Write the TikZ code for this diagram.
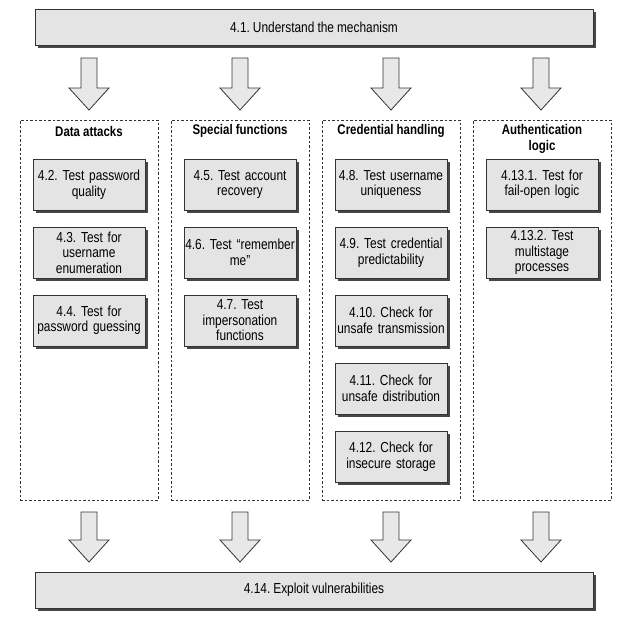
\documentclass[tikz,border=0pt]{standalone}
\usepackage{fontspec}
\setmainfont{Liberation Sans}[FakeStretch=0.82]
\usetikzlibrary{shadows}
\definecolor{boxfill}{HTML}{E4E4E4}
\definecolor{arrfill}{HTML}{E8E8E8}
\definecolor{edge}{HTML}{333333}
\newcommand{\blkarrow}[3]{%
  \draw[blockarrow] ({#1-8},{#2}) -- ({#1+8},{#2}) -- ({#1+8},{#3-22}) -- ({#1+20},{#3-22})
    -- ({#1},{#3}) -- ({#1-20},{#3-22}) -- ({#1-8},{#3-22}) -- cycle;}
\newcommand{\boxfont}{\fontsize{14.5}{15.5}\selectfont\spaceskip=0.21em plus 0.05em minus 0.03em\relax}
\newcommand{\hdrfont}{\fontsize{14}{16}\selectfont\bfseries\spaceskip=0.22em plus 0.05em minus 0.03em\relax}
\begin{document}
\frenchspacing
\begin{tikzpicture}[x=1pt,y=-1pt,
  boxshadow/.style={drop shadow={shadow xshift=3pt, shadow yshift=-3pt, fill=black!72, opacity=1}},
  task/.style={draw=edge, line width=0.9pt, fill=boxfill, boxshadow,
    minimum width=112pt, minimum height=51pt, align=center, text width=110pt,
    inner sep=1pt, font=\boxfont},
  wide/.style={draw=edge, line width=0.9pt, fill=boxfill, boxshadow,
    minimum width=558pt, minimum height=36pt, font=\boxfont},
  colframe/.style={draw=edge, line width=0.7pt, dash pattern=on 2.5pt off 2pt,
    minimum width=138pt, minimum height=380pt, inner sep=0pt},
  hdr/.style={align=center, font=\hdrfont},
  blockarrow/.style={draw=edge, line width=0.8pt, fill=arrfill, line join=miter}
]
\useasboundingbox (0,0) rectangle (632,625);

% top and bottom boxes
\node[wide] (top) at (314,27) {4.1. Understand the mechanism};
\node[wide] (bot) at (314,590) {4.14. Exploit vulnerabilities};

% column frames
\node[colframe] (c1) at (89,310) {};
\node[colframe] (c2) at (240,310) {};
\node[colframe] (c3) at (391,310) {};
\node[colframe] (c4) at (542,310) {};

% headers
\node[hdr] (h1) at (89,131) {Data attacks};
\node[hdr] (h2) at (240,131) {Special functions};
\node[hdr] (h3) at (391,131) {Credential handling};
\node[hdr] (h4) at (542,139) {Authentication\\logic};

% column 1
\node[task] (t42) at (89,184.5) {4.2. Test password\\quality};
\node[task] (t43) at (89,252.5) {4.3. Test for\\username\\enumeration};
\node[task] (t44) at (89,320.5) {4.4. Test for\\password guessing};
% column 2
\node[task] (t45) at (240,184.5) {4.5. Test account\\recovery};
\node[task] (t46) at (240,252.5) {4.6. Test “remember\\me”};
\node[task] (t47) at (240,320.5) {4.7. Test\\impersonation\\functions};
% column 3
\node[task] (t48) at (391,184.5) {4.8. Test username\\uniqueness};
\node[task] (t49) at (391,252.5) {4.9. Test credential\\predictability};
\node[task] (t410) at (391,320.5) {4.10. Check for\\unsafe transmission};
\node[task] (t411) at (391,388.5) {4.11. Check for\\unsafe distribution};
\node[task] (t412) at (391,456.5) {4.12. Check for\\insecure storage};
% column 4
\node[task] (t4131) at (542,184.5) {4.13.1. Test for\\fail-open logic};
\node[task] (t4132) at (542,252.5) {4.13.2. Test\\multistage\\processes};

% arrows
\foreach \cx in {89,240,391,541}{
  \blkarrow{\cx}{58}{110}
  \blkarrow{\cx}{512}{562}
}
\end{tikzpicture}
\end{document}
